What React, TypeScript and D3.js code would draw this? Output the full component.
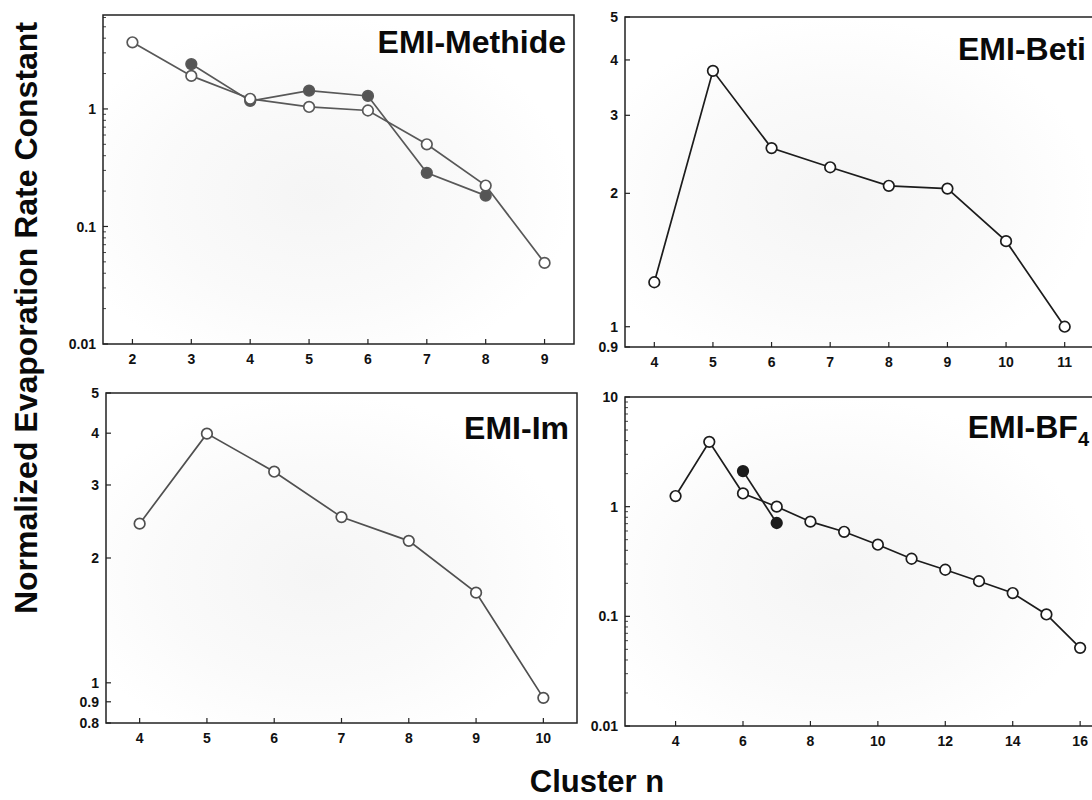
import React from "react";
import * as d3 from "d3";

// ---------- data ----------
const methideN = [2, 3, 4, 5, 6, 7, 8, 9];
const methideOpen = [3.69, 1.91, 1.22, 1.04, 0.97, 0.5, 0.223, 0.049];
const methideFilledN = [3, 4, 5, 6, 7, 8];
const methideFilled = [2.41, 1.17, 1.43, 1.29, 0.286, 0.183];

const betiN = [4, 5, 6, 7, 8, 9, 10, 11];
const betiOpen = [1.26, 3.78, 2.53, 2.29, 2.08, 2.05, 1.56, 1.0];

const imN = [4, 5, 6, 7, 8, 9, 10];
const imOpen = [2.42, 3.99, 3.23, 2.51, 2.2, 1.65, 0.92];

const bf4N = [4, 5, 6, 7, 8, 9, 10, 11, 12, 13, 14, 15, 16];
const bf4Open = [1.25, 3.9, 1.32, 1.0, 0.73, 0.59, 0.45, 0.335, 0.266, 0.209, 0.163, 0.104, 0.0516];
const bf4FilledN = [6, 7];
const bf4Filled = [2.11, 0.71];

const methideXTicks = [2, 3, 4, 5, 6, 7, 8, 9];
const methideYTicks = [0.01, 0.1, 1];
const betiXTicks = [4, 5, 6, 7, 8, 9, 10, 11];
const betiYTicks = [0.9, 1, 2, 3, 4, 5];
const imXTicks = [4, 5, 6, 7, 8, 9, 10];
const imYTicks = [0.8, 0.9, 1, 2, 3, 4, 5];
const bf4XTicks = [4, 6, 8, 10, 12, 14, 16];
const bf4YTicks = [0.01, 0.1, 1, 10];

const yAxisTitle = "Normalized Evaporation Rate Constant";
const xAxisTitle = "Cluster n";

const FONT = "'Liberation Sans', Arial, Helvetica, sans-serif";

type Series = { n: number[]; v: number[]; filled: boolean };
type Panel = {
  title: string;
  sub?: string;
  box: [number, number, number, number]; // left, top, right, bottom
  xDomain: [number, number];
  yDomain: [number, number];
  xTicks: number[];
  yTicks: number[];
  minor: boolean;
  series: Series[];
  color: string;
  fillColor: string;
  titleDy: number;
};

const panels: Panel[] = [
  {
    title: "EMI-Methide",
    box: [103, 15, 574, 344],
    xDomain: [1.5, 9.5],
    yDomain: [0.01, 6.3],
    xTicks: methideXTicks,
    yTicks: methideYTicks,
    minor: true,
    series: [
      { n: methideFilledN, v: methideFilled, filled: true },
      { n: methideN, v: methideOpen, filled: false },
    ],
    color: "#585858",
    fillColor: "#555",
    titleDy: 38,
  },
  {
    title: "EMI-Beti",
    box: [625, 17, 1094, 347],
    xDomain: [3.5, 11.5],
    yDomain: [0.9, 5],
    xTicks: betiXTicks,
    yTicks: betiYTicks,
    minor: false,
    series: [{ n: betiN, v: betiOpen, filled: false }],
    color: "#1c1c1c",
    fillColor: "#1c1c1c",
    titleDy: 43,
  },
  {
    title: "EMI-Im",
    box: [106, 393, 577, 723],
    xDomain: [3.5, 10.5],
    yDomain: [0.8, 5],
    xTicks: imXTicks,
    yTicks: imYTicks,
    minor: false,
    series: [{ n: imN, v: imOpen, filled: false }],
    color: "#505050",
    fillColor: "#505050",
    titleDy: 46,
  },
  {
    title: "EMI-BF",
    sub: "4",
    box: [625, 397, 1097, 726],
    xDomain: [2.5, 16.5],
    yDomain: [0.01, 10],
    xTicks: bf4XTicks,
    yTicks: bf4YTicks,
    minor: true,
    series: [
      { n: bf4FilledN, v: bf4Filled, filled: true },
      { n: bf4N, v: bf4Open, filled: false },
    ],
    color: "#1c1c1c",
    fillColor: "#1c1c1c",
    titleDy: 41,
  },
];

function fmt(v: number) {
  return String(v);
}

function PanelView({ p, idx }: { p: Panel; idx: number }) {
  const [l, t, r, b] = p.box;
  const x = d3.scaleLinear().domain(p.xDomain).range([l, r]);
  const y = d3.scaleLog().domain(p.yDomain).range([b, t]);
  const line = d3
    .line<[number, number]>()
    .x((d) => x(d[0]))
    .y((d) => y(d[1]));

  const minorTicks: number[] = [];
  if (p.minor) {
    const [lo, hi] = p.yDomain;
    for (let e = Math.floor(Math.log10(lo)); e <= Math.ceil(Math.log10(hi)); e++) {
      for (let k = 2; k <= 9; k++) {
        const v = k * Math.pow(10, e);
        if (v > lo && v < hi) minorTicks.push(v);
      }
    }
  }
  const gid = `bg${idx}`;
  const clipId = `clip${idx}`;

  return (
    <g>
      <defs>
        <radialGradient id={gid} cx="0.45" cy="0.55" r="0.55">
          <stop offset="0%" stopColor="#f5f5f5" />
          <stop offset="60%" stopColor="#fafafa" />
          <stop offset="100%" stopColor="#ffffff" />
        </radialGradient>
        <clipPath id={clipId}>
          <rect x={l} y={t} width={r - l} height={b - t} />
        </clipPath>
      </defs>
      <rect x={l} y={t} width={r - l} height={b - t} fill={`url(#${gid})`} />
      {/* x ticks (inward) */}
      {p.xTicks.map((v) => (
        <g key={"xt" + v}>
          <line x1={x(v)} x2={x(v)} y1={b} y2={b - 5} stroke="#222" strokeWidth={1.2} />
          <text
            x={x(v)}
            y={b + 20}
            textAnchor="middle"
            fontSize={14}
            fontWeight="bold"
            fontFamily={FONT}
            fill="#111"
          >
            {v}
          </text>
        </g>
      ))}
      {/* y ticks */}
      {p.yTicks.map((v) => (
        <g key={"yt" + v}>
          <line x1={l} x2={l + 5} y1={y(v)} y2={y(v)} stroke="#222" strokeWidth={1.2} />
          <text
            x={l - 7}
            y={y(v)}
            dy="0.36em"
            textAnchor="end"
            fontSize={14}
            fontWeight="bold"
            fontFamily={FONT}
            fill="#111"
          >
            {fmt(v)}
          </text>
        </g>
      ))}
      {minorTicks.map((v) => (
        <line key={"mt" + v} x1={l} x2={l + 3} y1={y(v)} y2={y(v)} stroke="#444" strokeWidth={1} />
      ))}
      {/* series */}
      <g clipPath={`url(#${clipId})`}>
        {p.series.map((s, i) => (
          <path
            key={"ln" + i}
            d={line(s.n.map((n, j) => [n, s.v[j]] as [number, number])) || ""}
            fill="none"
            stroke={p.color}
            strokeWidth={1.7}
          />
        ))}
      </g>
      {p.series.map((s, i) => (
        <g key={"pts" + i}>
          {s.n.map((n, j) => (
            <circle
              key={j}
              cx={x(n)}
              cy={y(s.v[j])}
              r={5.3}
              fill={s.filled ? p.fillColor : "#fff"}
              stroke={p.color}
              strokeWidth={1.7}
            />
          ))}
        </g>
      ))}
      {/* frame */}
      <rect x={l} y={t} width={r - l} height={b - t} fill="none" stroke="#222" strokeWidth={1.5} />
      {/* title */}
      <text
        x={r - 8}
        y={t + p.titleDy}
        textAnchor="end"
        fontSize={32}
        fontWeight="bold"
        fontFamily={FONT}
        fill="#0a0a0a"
      >
        {p.title}
        {p.sub ? (
          <tspan fontSize={20} dy={8}>
            {p.sub}
          </tspan>
        ) : null}
      </text>
    </g>
  );
}

export default function App() {
  return (
    <svg
      width={1092}
      height={800}
      style={{ position: "absolute", left: 0, top: 0, background: "#fff" }}
    >
      <rect x={0} y={0} width={1092} height={800} fill="#fff" />
      {panels.map((p, i) => (
        <PanelView key={i} p={p} idx={i} />
      ))}
      <text
        transform="translate(37,318) rotate(-90)"
        textAnchor="middle"
        fontSize={32}
        fontWeight="bold"
        fontFamily={FONT}
        fill="#0a0a0a"
      >
        {yAxisTitle}
      </text>
      <text
        x={597}
        y={792}
        textAnchor="middle"
        fontSize={31}
        fontWeight="bold"
        fontFamily={FONT}
        fill="#0a0a0a"
      >
        {xAxisTitle}
      </text>
    </svg>
  );
}
